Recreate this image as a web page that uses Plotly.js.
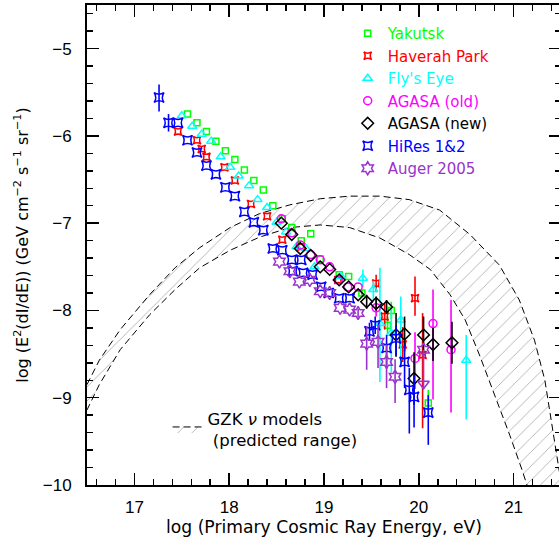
<!DOCTYPE html>
<html><head><meta charset="utf-8">
<script src="https://cdn.plot.ly/plotly-3.0.1.min.js"></script>
<style>html,body{margin:0;padding:0;overflow:hidden;background:#fff}#plot{width:566px;height:537px}</style>
</head><body><div id="plot"></div>
<script>
// GZK neutrino model band (upper and lower boundaries)
const gzkUpX = [16.50,16.63,16.85,17.16,17.43,17.69,18.01,18.32,18.64,18.96,19.27,19.59,19.90,20.22,20.54,20.85,21.06,21.22,21.33,21.41,21.48,21.55];
const gzkUpY = [-8.85,-8.57,-8.22,-7.82,-7.51,-7.28,-7.05,-6.89,-6.79,-6.72,-6.69,-6.69,-6.73,-6.85,-7.13,-7.48,-7.88,-8.34,-8.80,-9.37,-9.83,-10.23];
const gzkLoX = [16.50,16.63,16.85,17.16,17.43,17.69,18.01,18.32,18.64,18.96,19.27,19.59,19.90,20.12,20.33,20.49,20.64,20.80,20.96,21.09,21.15];
const gzkLoY = [-9.14,-8.85,-8.45,-8.05,-7.76,-7.51,-7.31,-7.16,-7.05,-7.02,-7.05,-7.17,-7.36,-7.53,-7.82,-8.11,-8.51,-8.97,-9.43,-9.83,-10.03];

// Yakutsk
const yakX = [17.56,17.66,17.76,17.86,17.96,18.06,18.16,18.26,18.36,18.46,18.56,18.66,18.76,18.86,18.96,19.16,19.26,19.40,19.67,19.71,20.10];
const yakY = [-5.75,-5.85,-5.95,-6.06,-6.17,-6.27,-6.39,-6.51,-6.62,-6.80,-6.95,-7.05,-7.20,-7.12,-7.41,-7.59,-7.61,-7.80,-8.17,-8.00,-9.06];
const yakEp = [0,0,0,0,0,0,0,0,0,0,0,0,0,0,0,0,0,0.05,0.1,0.1,0.15];
const yakEm = [0,0,0,0,0,0,0,0,0,0,0,0,0,0,0,0,0,0.05,0.1,0.1,0.15];
// Haverah Park
const havX = [17.46,17.66,17.71,17.76,17.95,18.06,18.23,18.40,18.56,18.76,19.15,19.55,19.64,19.83,19.96,20.04];
const havY = [-5.95,-6.05,-6.15,-6.24,-6.36,-6.51,-6.78,-6.92,-7.19,-7.27,-7.65,-7.69,-8.07,-8.39,-7.86,-8.51];
const havEp = [0,0,0,0,0,0,0,0,0,0,0,0.1,0.15,0.2,0.25,0.48];
const havEm = [0,0,0,0,0,0,0,0,0,0,0,0.1,0.15,0.2,0.2,0.84];
// Fly's Eye
const flyX = [17.50,17.61,17.71,17.81,17.91,18.01,18.10,18.21,18.30,18.40,18.50,18.60,18.71,18.81,18.90,19.18,19.41,19.52,19.59,19.71,19.81,20.50];
const flyY = [-5.77,-5.89,-5.98,-6.06,-6.24,-6.36,-6.46,-6.57,-6.73,-6.82,-6.99,-7.10,-7.27,-7.29,-7.50,-7.61,-7.63,-7.76,-8.15,-8.26,-8.11,-8.57];
const flyEp = [0,0,0,0,0,0,0,0,0,0,0,0,0,0,0,0,0.1,0.1,0.64,0.3,0.27,0.29];
const flyEm = [0,0,0,0,0,0,0,0,0,0,0,0,0,0,0,0,0.1,0.12,0.67,0.45,0.54,0.68];
// AGASA (old)
const agoX = [18.55,18.66,18.75,18.86,18.96,19.06,19.15,19.25,19.36,19.55,19.96,20.15,20.34];
const agoY = [-6.95,-7.11,-7.25,-7.36,-7.42,-7.50,-7.65,-7.73,-7.73,-7.97,-8.55,-8.15,-8.45];
const agoEp = [0,0,0,0,0,0,0,0,0,0.1,0.3,0.39,0.57];
const agoEm = [0,0,0,0,0,0,0,0,0,0.1,0.35,0.87,0.72];
// AGASA (new)
const agnX = [18.55,18.66,18.75,18.86,18.96,19.06,19.16,19.26,19.36,19.45,19.55,19.66,19.76,19.85,19.95,20.05,20.15,20.35];
const agnY = [-7.00,-7.13,-7.29,-7.37,-7.50,-7.53,-7.65,-7.73,-7.82,-7.90,-7.92,-7.96,-8.28,-8.27,-8.78,-8.28,-8.39,-8.37];
const agnEp = [0,0,0,0,0,0,0,0,0,0.08,0.08,0.08,0.25,0.2,0.3,0.21,0.19,0.24];
const agnEm = [0,0,0,0,0,0,0,0,0,0.08,0.08,0.08,0.25,0.2,0.3,0.21,0.19,0.24];
// HiRes 1&2
const hirX = [17.26,17.36,17.46,17.56,17.66,17.76,17.86,17.96,18.06,18.16,18.26,18.36,18.46,18.56,18.66,18.76,18.67,18.78,18.88,18.97,19.05,19.16,19.27,19.48,19.54,19.66,19.76,19.85,19.90,19.95,20.10];
const hirY = [-5.56,-5.85,-5.85,-6.05,-6.19,-6.34,-6.44,-6.59,-6.69,-6.87,-6.99,-7.08,-7.29,-7.31,-7.42,-7.42,-7.55,-7.57,-7.59,-7.73,-7.80,-7.86,-7.86,-8.24,-8.17,-8.43,-8.32,-8.59,-8.91,-8.99,-9.17];
const hirEp = [0.15,0.1,0,0,0,0,0,0,0,0,0,0,0,0,0,0,0,0,0,0,0,0,0,0.1,0.1,0.15,0.15,0.2,0.25,0.25,0.2];
const hirEm = [0.16,0.1,0,0,0,0,0,0,0,0,0,0,0,0,0,0,0,0,0,0,0,0,0,0.1,0.1,0.2,0.2,0.3,0.5,0.35,0.37];
// Auger 2005
const augX = [18.53,18.64,18.74,18.85,18.96,19.06,19.17,19.27,19.36,19.45,19.57,19.66,19.75,20.05];
const augY = [-7.44,-7.55,-7.67,-7.65,-7.78,-7.80,-7.97,-7.99,-8.03,-8.38,-8.36,-8.59,-8.76,-8.45];
const augEp = [0,0,0,0,0,0,0,0,0.05,0.2,0.2,0.2,0.2,0];
const augEm = [0,0,0,0,0,0,0,0,0.05,0.3,0.3,0.3,0.3,0.45];
const augLimX = [20.05];
const augLimY = [-8.84];

const FONT = 'Liberation Sans, Arial, sans-serif';
const WFONT = 'DejaVu Sans, Verdana, sans-serif';
function series(x, y, ep, em, color, symbol, size, label) {
  return {
    type: 'scatter', mode: 'markers', x: x, y: y,
    name: '<span style="color:' + color + '">' + label + '</span>',
    marker: {symbol: symbol, size: size, color: color, line: {color: color, width: 1.5}},
    error_y: {type: 'data', symmetric: false, array: ep, arrayminus: em, color: color, thickness: 1.6, width: 0},
    legend: 'legend', cliponaxis: true
  };
}
const bandX = gzkUpX.concat(gzkLoX.slice().reverse());
const bandY = gzkUpY.concat(gzkLoY.slice().reverse());
const traces = [
  {type: 'scatter', mode: 'lines', x: bandX, y: bandY, fill: 'toself', fillcolor: 'rgba(0,0,0,0)',
   fillpattern: {shape: '/', fgcolor: '#888', size: 10, solidity: 0.06},
   line: {color: '#000', width: 1, dash: '7px,4px'}, name: 'GZK <i>ν</i> models<br> (predicted range)', legend: 'legend2'},
  series(yakX, yakY, yakEp, yakEm, '#00ff00', 'square-open', 6, 'Yakutsk'),
  series(havX, havY, havEp, havEm, '#ff0000', 'star-square-open', 7, 'Haverah Park'),
  series(flyX, flyY, flyEp, flyEm, '#00ffff', 'triangle-up-open', 8, "Fly's Eye"),
  series(agoX, agoY, agoEp, agoEm, '#ff00ff', 'circle-open', 8, 'AGASA (old)'),
  series(agnX, agnY, agnEp, agnEm, '#000000', 'diamond-open', 9, 'AGASA (new)'),
  series(hirX, hirY, hirEp, hirEm, '#0000ff', 'star-square-open', 9, 'HiRes 1&amp;2'),
  series(augX, augY, augEp, augEm, '#9933cc', 'hexagram-open', 10, 'Auger 2005'),
  {type: 'scatter', mode: 'markers', x: augLimX, y: augLimY, showlegend: false,
   marker: {symbol: 'triangle-down-open', size: 10, color: '#9933cc', line: {color: '#9933cc', width: 1.5}}}
];
const axisCommon = {
  showgrid: false, zeroline: false, showline: true, linecolor: '#000', linewidth: 2,
  mirror: 'ticks', ticks: 'inside', ticklen: 12, tickwidth: 1.5, tickcolor: '#000',
  dtick: 1, tick0: 0, tickfont: {family: FONT, size: 17, color: '#000'},
  minor: {dtick: 0.2, ticks: 'inside', ticklen: 6, tickwidth: 1.5, tickcolor: '#000'}
};
const layout = {
  width: 566, height: 537,
  margin: {l: 87, r: 5, t: 5, b: 52},
  paper_bgcolor: '#fff', plot_bgcolor: '#fff',
  font: {family: FONT, color: '#000'},
  showlegend: true,
  xaxis: Object.assign({}, axisCommon, {range: [16.5, 21.5], ticklabelstandoff: 6,
    title: {text: 'log (Primary Cosmic Ray Energy, eV)', font: {family: WFONT, size: 17.2}, standoff: 4}}),
  yaxis: Object.assign({}, axisCommon, {range: [-10, -4.5], ticklabelstandoff: 10,
    title: {text: 'log (E<sup>2</sup>(dI/dE)) (GeV cm<sup>−2</sup> s<sup>−1</sup> sr<sup>−1</sup>)', font: {family: WFONT, size: 16}, standoff: 10}}),
  legend: {x: 0.55, y: 0.975, xanchor: 'left', yanchor: 'top', bgcolor: 'rgba(0,0,0,0)',
    font: {family: WFONT, size: 15}, itemsizing: 'trace', tracegroupgap: 0},
  legend2: {x: 0.17, y: 0.175, xanchor: 'left', yanchor: 'top', bgcolor: 'rgba(0,0,0,0)',
    font: {family: WFONT, size: 16.5, color: '#000'}}
};
Plotly.newPlot('plot', traces, layout, {displayModeBar: false, staticPlot: true});
</script></body></html>
